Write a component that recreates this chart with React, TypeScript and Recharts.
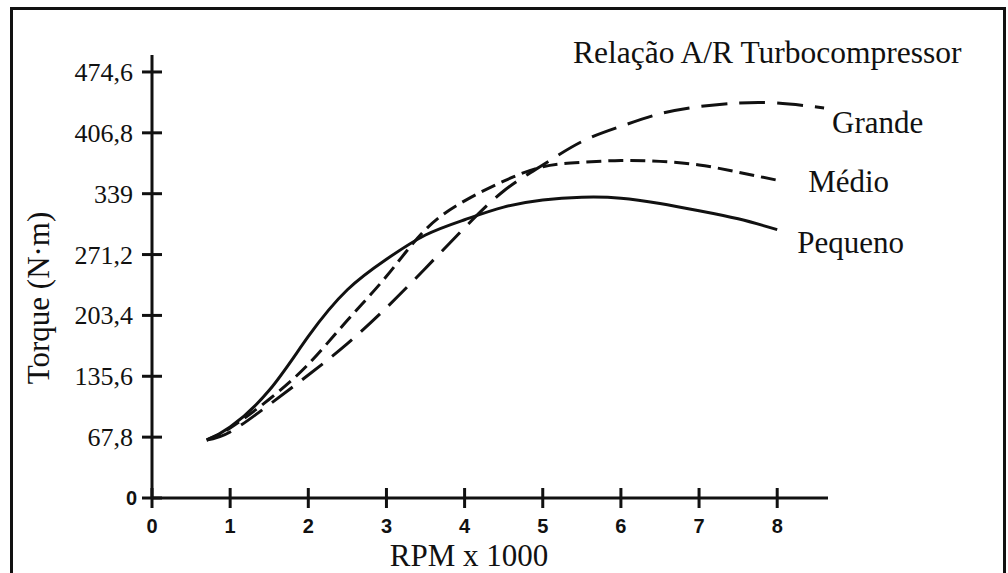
import { LineChart, Line, XAxis, YAxis, LabelList } from 'recharts';

const rpm = [0.7, 1, 1.5, 2, 2.5, 3, 3.5, 4, 4.5, 5, 5.5, 6, 6.5, 7, 7.5, 8, 8.6];
const pequeno = [64.6, 79, 120, 180, 232, 266, 293, 310, 324, 332, 335, 334, 328, 320, 311, 299, null];
const medio = [64.6, 78, 110, 149, 198, 247, 299, 331, 353, 369, 374, 376, 375, 371, 363, 354, null];
const grande = [64.6, 73.5, 104, 137, 172, 212, 256, 301, 342, 371, 397, 414, 428, 436, 440, 440, 434.5];

const xTicks = [0, 1, 2, 3, 4, 5, 6, 7, 8];
const yTicks = [0, 67.8, 135.6, 203.4, 271.2, 339, 406.8, 474.6];

const chartTitle = 'Relação A/R Turbocompressor';
const xTitle = 'RPM x 1000';
const yTitle = 'Torque (N·m)';

const data = rpm.map((r, i) => ({
  rpm: r,
  pequeno: pequeno[i],
  medio: medio[i],
  grande: grande[i],
}));

const INK = '#111';
const SERIF = '"Liberation Serif", "Times New Roman", serif';
const SANS = '"Liberation Sans", Arial, sans-serif';

const lastIndex = (arr: (number | null)[]) => {
  let k = -1;
  arr.forEach((v, i) => {
    if (v != null) k = i;
  });
  return k;
};

const XTick = ({ x, y, payload }: any) => (
  <g>
    <line x1={x} x2={x} y1={y - 20} y2={y} stroke={INK} strokeWidth={3} />
    <text x={x} y={y + 25} textAnchor="middle" fontFamily={SANS} fontWeight="bold" fontSize={20} fill={INK}>
      {payload.value}
    </text>
  </g>
);

const YTick = ({ x, y, payload }: any) => {
  const v = payload.value;
  return (
    <g>
      <line x1={x + 9} x2={x + 29} y1={y} y2={y} stroke={INK} strokeWidth={3} />
      {v === 0 ? (
        <text x={x + 4} y={y + 7} textAnchor="end" fontFamily={SANS} fontWeight="bold" fontSize={20} fill={INK}>
          0
        </text>
      ) : (
        <text x={x} y={y + 9} textAnchor="end" fontFamily={SERIF} fontSize={26} fill={INK}>
          {String(v).replace('.', ',')}
        </text>
      )}
    </g>
  );
};

// series name written next to the last point of each curve
const endLabel = (name: string, last: number, dx: number, dy: number) => (props: any) => {
  if (props.index !== last) return null;
  return (
    <text x={props.x + dx} y={props.y + dy} fontFamily={SERIF} fontSize={31} fill={INK}>
      {name}
    </text>
  );
};

export default function App() {
  return (
    <div style={{ position: 'fixed', left: 0, top: 0, width: 1008, height: 573, background: '#fff' }}>
      <div
        style={{
          position: 'absolute',
          left: 10,
          top: 7,
          width: 990,
          height: 564,
          borderTop: '3px solid #111',
          borderLeft: '3px solid #111',
          borderRight: '3px solid #111',
          borderBottom: '1px solid #ccc',
        }}
      />
      <div style={{ position: 'absolute', left: 0, top: 0 }}>
        <LineChart width={1008} height={573} data={data} margin={{ top: 55, right: 180, left: 0, bottom: 35 }}>
          <XAxis
            dataKey="rpm"
            type="number"
            domain={[0, 8.65]}
            ticks={xTicks}
            height={40}
            tickSize={10}
            tickMargin={0}
            tickLine={false}
            axisLine={{ stroke: INK, strokeWidth: 3 }}
            tick={<XTick />}
            allowDataOverflow
          />
          <YAxis
            type="number"
            domain={[0, 493.5]}
            ticks={yTicks}
            width={152}
            tickSize={10}
            tickMargin={9}
            tickLine={false}
            axisLine={{ stroke: INK, strokeWidth: 3 }}
            tick={<YTick />}
            allowDataOverflow
          />
          <Line
            dataKey="pequeno"
            type="natural"
            stroke={INK}
            strokeWidth={3}
            dot={false}
            isAnimationActive={false}
          >
            <LabelList dataKey="pequeno" content={endLabel('Pequeno', lastIndex(pequeno), 20, 23)} />
          </Line>
          <Line
            dataKey="medio"
            type="natural"
            stroke={INK}
            strokeWidth={3}
            strokeDasharray="15 7"
            dot={false}
            isAnimationActive={false}
          >
            <LabelList dataKey="medio" content={endLabel('Médio', lastIndex(medio), 31, 12)} />
          </Line>
          <Line
            dataKey="grande"
            type="natural"
            stroke={INK}
            strokeWidth={3}
            strokeDasharray="26 12"
            dot={false}
            isAnimationActive={false}
          >
            <LabelList dataKey="grande" content={endLabel('Grande', lastIndex(grande), 8, 25)} />
          </Line>
        </LineChart>
      </div>
      <svg width={1008} height={573} style={{ position: 'absolute', left: 0, top: 0, pointerEvents: 'none' }}>
        <text x={573} y={63} fontFamily={SERIF} fontSize={31.5} fill={INK}>
          {chartTitle}
        </text>
        <text x={469} y={566} textAnchor="middle" fontFamily={SERIF} fontSize={31} fill={INK}>
          {xTitle}
        </text>
        <text
          transform="translate(49,298) rotate(-90)"
          textAnchor="middle"
          fontFamily={SERIF}
          fontSize={31}
          fill={INK}
        >
          {yTitle}
        </text>
      </svg>
    </div>
  );
}
